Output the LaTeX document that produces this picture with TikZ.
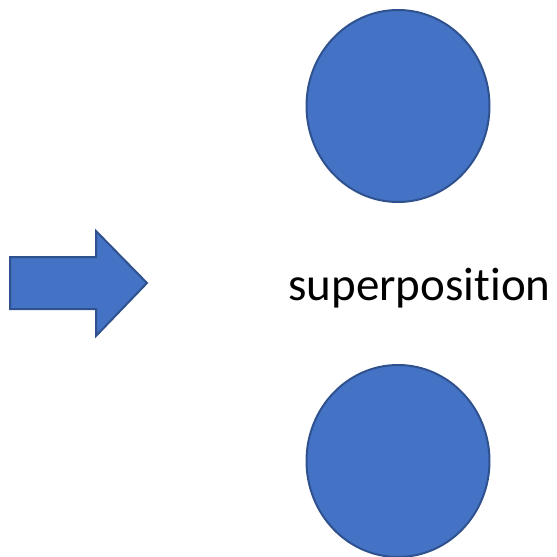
\documentclass[tikz,border=0pt]{standalone}
\usepackage{fontspec}
\setmainfont[Ligatures={NoCommon,NoRequired,NoContextual}]{Carlito}
\usetikzlibrary{shapes.geometric}
\definecolor{fillblue}{HTML}{4472C4}
\definecolor{edgeblue}{HTML}{2F528F}
\begin{document}
\begin{tikzpicture}[x=1pt,y=-1pt,
  ball/.style={ellipse,draw=edgeblue,fill=fillblue,line width=2pt,minimum width=183pt,minimum height=192pt,inner sep=0pt},
  blockarrow/.style={draw=edgeblue,fill=fillblue,line width=2pt,line join=miter}]
\useasboundingbox (0,0) rectangle (557,557);
\node[ball] (top) at (398,106) {};
\node[ball] (bottom) at (398,461) {};
\node[anchor=base,font=\fontsize{47}{56}\selectfont,inner sep=0pt] (label) at (419.5,300) {superposition};
\draw[blockarrow] (10,257) -- (96,257) -- (96,231) -- (147,283) -- (96,336) -- (96,309) -- (10,309) -- cycle;
\end{tikzpicture}
\end{document}
